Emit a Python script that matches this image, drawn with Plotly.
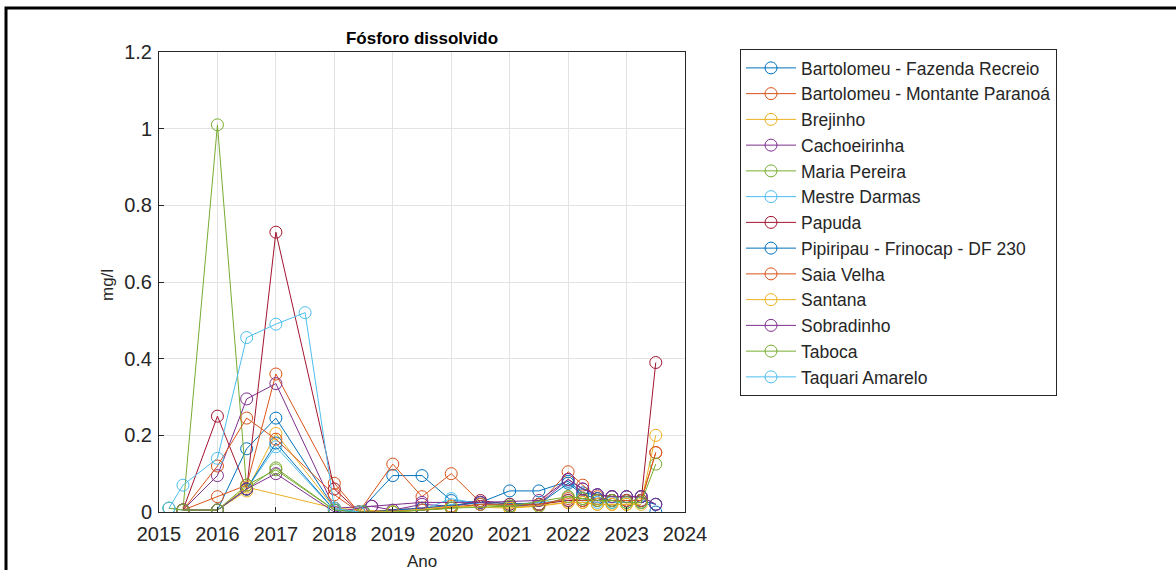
import plotly.graph_objects as go

# ---- data (decimal years, mg/l) ----
names = [
    "Bartolomeu - Fazenda Recreio", "Bartolomeu - Montante Paranoá", "Brejinho",
    "Cachoeirinha", "Maria Pereira", "Mestre Darmas", "Papuda",
    "Pipiripau - Frinocap - DF 230", "Saia Velha", "Santana", "Sobradinho",
    "Taboca", "Taquari Amarelo",
]

bfr_x = [2015.41, 2016.0, 2016.5, 2017.0, 2018.0, 2018.42, 2019.0, 2019.5, 2020.0, 2020.5, 2021.0, 2021.5, 2022.0, 2022.25, 2022.5, 2022.75, 2023.0, 2023.25, 2023.5]
bfr_y = [0.005, 0.005, 0.165, 0.245, 0.01, 0.0, 0.095, 0.095, 0.03, 0.025, 0.055, 0.055, 0.08, 0.05, 0.045, 0.04, 0.04, 0.04, 0.0]

bmp_x = [2015.41, 2016.0, 2016.5, 2017.0, 2018.0, 2018.42, 2019.0, 2019.5, 2020.0, 2020.5, 2021.0, 2021.5, 2022.0, 2022.25, 2022.5, 2022.75, 2023.0, 2023.25, 2023.5]
bmp_y = [0.005, 0.04, 0.07, 0.36, 0.075, 0.0, 0.125, 0.04, 0.10, 0.025, 0.015, 0.02, 0.105, 0.07, 0.04, 0.03, 0.03, 0.03, 0.155]

bre_x = [2015.41, 2016.0, 2016.5, 2017.0, 2018.0, 2018.5, 2019.0, 2019.5, 2020.0, 2020.5, 2021.0, 2021.5, 2022.0, 2022.25, 2022.5, 2022.75, 2023.0, 2023.25, 2023.5]
bre_y = [0.005, 0.005, 0.055, 0.205, 0.01, 0.0, 0.0, 0.005, 0.01, 0.02, 0.01, 0.015, 0.025, 0.025, 0.02, 0.02, 0.02, 0.025, 0.2]

cac_x = [2015.41, 2016.0, 2016.5, 2017.0, 2018.0, 2018.64, 2019.0, 2019.5, 2020.0, 2020.5, 2021.0, 2021.5, 2022.0, 2022.25, 2022.5, 2022.75, 2023.0, 2023.25, 2023.5]
cac_y = [0.005, 0.095, 0.295, 0.335, 0.01, 0.015, 0.005, 0.02, 0.015, 0.025, 0.015, 0.02, 0.085, 0.06, 0.045, 0.04, 0.04, 0.04, 0.02]

mpe_x = [2015.41, 2016.0, 2016.5, 2017.0, 2018.0, 2018.5, 2019.0, 2019.5, 2020.0, 2020.5, 2021.0, 2021.5, 2022.0, 2022.25, 2022.5, 2022.75, 2023.0, 2023.25]
mpe_y = [0.005, 1.01, 0.06, 0.115, 0.005, 0.0, 0.0, 0.005, 0.01, 0.02, 0.015, 0.015, 0.04, 0.035, 0.03, 0.025, 0.025, 0.025]

mda_x = [2015.17, 2015.41, 2016.0, 2016.5, 2017.0, 2018.0, 2018.42, 2019.5, 2020.0, 2020.5, 2021.0, 2022.0, 2022.25, 2022.5, 2022.75, 2023.0, 2023.25]
mda_y = [0.01, 0.005, 0.005, 0.06, 0.17, 0.005, 0.0, 0.005, 0.035, 0.02, 0.02, 0.03, 0.03, 0.025, 0.025, 0.025, 0.025]

pap_x = [2015.41, 2016.0, 2016.5, 2017.0, 2018.0, 2018.42, 2019.5, 2020.0, 2020.5, 2021.0, 2021.5, 2022.0, 2022.25, 2022.5, 2022.75, 2023.0, 2023.25, 2023.5]
pap_y = [0.005, 0.25, 0.06, 0.73, 0.06, 0.0, 0.01, 0.015, 0.03, 0.02, 0.02, 0.03, 0.03, 0.035, 0.03, 0.03, 0.03, 0.39]

pip_x = [2015.41, 2016.0, 2016.5, 2017.0, 2018.0, 2018.5, 2019.5, 2020.5, 2021.5, 2022.0, 2022.25, 2022.5, 2022.75, 2023.0, 2023.25, 2023.5]
pip_y = [0.005, 0.005, 0.06, 0.18, 0.005, 0.0, 0.01, 0.025, 0.02, 0.075, 0.045, 0.035, 0.03, 0.03, 0.03, 0.02]

sve_x = [2015.41, 2016.0, 2016.5, 2017.0, 2018.0, 2018.42, 2019.5, 2020.5, 2021.5, 2022.0, 2022.25, 2022.5, 2022.75, 2023.0, 2023.25, 2023.5]
sve_y = [0.005, 0.12, 0.245, 0.19, 0.045, 0.0, 0.005, 0.02, 0.02, 0.035, 0.03, 0.03, 0.03, 0.03, 0.03, 0.155]

san_x = [2015.41, 2016.0, 2016.5, 2018.0, 2019.0, 2020.0, 2021.0, 2022.0, 2022.25, 2022.5, 2022.75, 2023.0, 2023.25]
san_y = [0.005, 0.005, 0.065, 0.01, 0.0, 0.015, 0.01, 0.025, 0.025, 0.02, 0.02, 0.02, 0.02]

sob_x = [2015.41, 2016.0, 2016.5, 2017.0, 2018.0, 2018.64, 2019.5, 2020.5, 2021.5, 2022.0, 2022.25, 2022.5, 2022.75, 2023.0, 2023.25, 2023.5]
sob_y = [0.005, 0.005, 0.06, 0.10, 0.0, 0.015, 0.025, 0.025, 0.03, 0.085, 0.06, 0.045, 0.04, 0.04, 0.04, 0.02]

tab_x = [2015.17, 2015.41, 2016.0, 2016.5, 2017.0, 2018.0, 2018.5, 2019.0, 2020.0, 2021.0, 2022.0, 2022.25, 2022.5, 2022.75, 2023.0, 2023.25, 2023.5]
tab_y = [0.01, 0.005, 0.005, 0.07, 0.11, 0.005, 0.0, 0.0, 0.01, 0.015, 0.04, 0.035, 0.03, 0.03, 0.025, 0.025, 0.125]

taq_x = [2015.17, 2015.41, 2016.0, 2016.5, 2017.0, 2017.5, 2018.0, 2018.42]
taq_y = [0.01, 0.07, 0.14, 0.455, 0.49, 0.52, 0.01, 0.0]

series_x = [bfr_x, bmp_x, bre_x, cac_x, mpe_x, mda_x, pap_x, pip_x, sve_x, san_x, sob_x, tab_x, taq_x]
series_y = [bfr_y, bmp_y, bre_y, cac_y, mpe_y, mda_y, pap_y, pip_y, sve_y, san_y, sob_y, tab_y, taq_y]

x_ticks = [2015, 2016, 2017, 2018, 2019, 2020, 2021, 2022, 2023, 2024]
y_ticks = [0, 0.2, 0.4, 0.6, 0.8, 1, 1.2]
y_tick_text = ["0", "0.2", "0.4", "0.6", "0.8", "1", "1.2"]

colors = ["#0072BD", "#D95319", "#EDB120", "#7E2F8E", "#77AC30", "#4DBEEE", "#A2142F"]

FONT = "Liberation Sans, Arial, sans-serif"
TXT = "#262626"

fig = go.Figure()
for i, (nm, xs, ys) in enumerate(zip(names, series_x, series_y)):
    c = colors[i % 7]
    fig.add_trace(go.Scatter(
        x=xs, y=ys, name=nm, mode="lines+markers",
        line=dict(color=c, width=1),
        marker=dict(symbol="circle-open", size=12, color=c, line=dict(width=1, color=c)),
    ))

L, R, T, B = 159, 685, 52, 512
W, H = 1176, 570
PW, PH = R - L, B - T

fig.update_layout(
    width=W, height=H,
    margin=dict(l=L, r=W - R, t=T, b=H - B, pad=0),
    paper_bgcolor="white", plot_bgcolor="white",
    font=dict(family=FONT, color=TXT, size=17),
    title=dict(text="<b>Fósforo dissolvido</b>", x=(L + R) / 2 / W, xanchor="center",
               y=1 - 38 / H, yanchor="middle", font=dict(size=17, color="black")),
    showlegend=True,
    legend=dict(x=(740 - L) / PW, y=(B - 49) / PH, xanchor="left", yanchor="top",
                bordercolor="#262626", borderwidth=1, bgcolor="white", maxheight=600,
                font=dict(size=17.5, color=TXT), itemwidth=50, tracegroupgap=0),
    xaxis=dict(range=[2015, 2024], tickvals=x_ticks, ticktext=[str(v) for v in x_ticks],
               showgrid=True, gridcolor="#e3e3e3", zeroline=False,
               showline=True, linecolor="#262626", linewidth=1, mirror=True,
               ticks="inside", ticklen=5, tickcolor="#262626",
               tickfont=dict(size=20, color=TXT), ticklabelstandoff=4),
    yaxis=dict(range=[0, 1.2], tickvals=y_ticks, ticktext=y_tick_text,
               showgrid=True, gridcolor="#e3e3e3", zeroline=False,
               showline=True, linecolor="#262626", linewidth=1, mirror=True,
               ticks="inside", ticklen=5, tickcolor="#262626",
               tickfont=dict(size=20, color=TXT), ticklabelstandoff=2),
    annotations=[
        dict(text="Ano", xref="paper", yref="paper", x=0.5, y=(B - 561) / PH,
             xanchor="center", yanchor="middle", showarrow=False,
             font=dict(size=17, color=TXT)),
        dict(text="mg/l", xref="paper", yref="paper", x=(107 - L) / PW, y=(B - 285) / PH,
             xanchor="center", yanchor="middle", textangle=-90, showarrow=False,
             font=dict(size=17, color=TXT)),
    ],
)

# figure frame (top and left edges visible)
fig.add_shape(type="rect", xref="paper", yref="paper",
              x0=(6 - L) / PW, x1=(W + 20 - L) / PW,
              y0=(B - (H + 20)) / PH, y1=(B - 8) / PH,
              line=dict(color="black", width=3), fillcolor="rgba(0,0,0,0)", layer="above")

fig.write_html("out.html", config={"displayModeBar": False},
               post_script="document.body.style.margin='0px';")
